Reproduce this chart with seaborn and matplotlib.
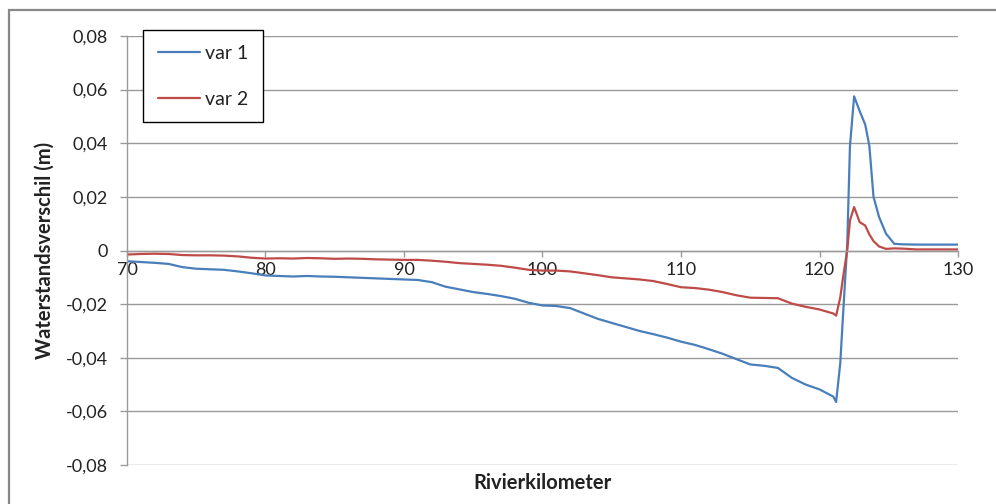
import matplotlib
matplotlib.use("Agg")
import matplotlib.pyplot as plt
import seaborn as sns
import pandas as pd
from matplotlib.patches import Rectangle

km = [70, 71, 72, 73, 74, 75, 76, 77, 78, 79, 80, 81, 82, 83, 84, 85, 86, 87, 88, 89,
      90, 91, 92, 93, 94, 95, 96, 97, 98, 99, 100, 101, 102, 103, 104, 105, 106, 107,
      108, 109, 110, 111, 112, 113, 114, 115, 116, 117, 118, 119, 120, 121, 121.2,
      121.5, 121.7, 122.0, 122.2, 122.5, 122.9, 123.3, 123.6, 123.9, 124.3, 124.8,
      125.4, 126, 127, 128, 129, 130]

var1 = [-0.0040, -0.0043, -0.0046, -0.0050, -0.0062, -0.0068, -0.0070, -0.0072, -0.0078,
        -0.0085, -0.0093, -0.0095, -0.0097, -0.0095, -0.0097, -0.0098, -0.0100, -0.0102,
        -0.0104, -0.0106, -0.0108, -0.0110, -0.0118, -0.0135, -0.0145, -0.0155, -0.0162,
        -0.0170, -0.0180, -0.0195, -0.0205, -0.0207, -0.0215, -0.0235, -0.0255, -0.0270,
        -0.0285, -0.0300, -0.0312, -0.0325, -0.0340, -0.0352, -0.0368, -0.0385, -0.0405,
        -0.0425, -0.0430, -0.0438, -0.0475, -0.0500, -0.0518, -0.0545, -0.0565, -0.0420,
        -0.0240, 0.0020, 0.0390, 0.0575, 0.0520, 0.0470, 0.0390, 0.0200, 0.0125, 0.0063,
        0.0025, 0.0023, 0.0022, 0.0022, 0.0022, 0.0022]

var2 = [-0.0015, -0.0013, -0.0012, -0.0013, -0.0017, -0.0018, -0.0018, -0.0019, -0.0022,
        -0.0027, -0.0030, -0.0029, -0.0030, -0.0028, -0.0029, -0.0031, -0.0030, -0.0031,
        -0.0033, -0.0034, -0.0035, -0.0035, -0.0038, -0.0042, -0.0047, -0.0050, -0.0053,
        -0.0057, -0.0064, -0.0072, -0.0075, -0.0075, -0.0078, -0.0085, -0.0092, -0.0100,
        -0.0104, -0.0108, -0.0114, -0.0125, -0.0137, -0.0140, -0.0146, -0.0155, -0.0167,
        -0.0176, -0.0177, -0.0178, -0.0198, -0.0210, -0.0220, -0.0235, -0.0243, -0.0175,
        -0.0100, 0.0000, 0.0112, 0.0162, 0.0106, 0.0093, 0.0060, 0.0035, 0.0015, 0.0006,
        0.0008, 0.0007, 0.0004, 0.0004, 0.0004, 0.0004]

series_names = ["var 1", "var 2"]
series_colors = ["#4a7ebb", "#be4b48"]

x_ticks = [70, 80, 90, 100, 110, 120, 130]
x_ticklabels = ["70", "80", "90", "100", "110", "120", "130"]
y_ticks = [0.08, 0.06, 0.04, 0.02, 0.0, -0.02, -0.04, -0.06, -0.08]
y_ticklabels = ["0,08", "0,06", "0,04", "0,02", "0", "-0,02", "-0,04", "-0,06", "-0,08"]

df = pd.DataFrame({
    "km": km * 2,
    "value": var1 + var2,
    "series": [series_names[0]] * len(km) + [series_names[1]] * len(km),
})

sns.set_style("white")
plt.rcParams["font.family"] = ["Lato", "DejaVu Sans"]

fig = plt.figure(figsize=(9.96, 5.04), dpi=100)
ax = fig.add_axes([127 / 996, 1 - 465 / 504, (958 - 127) / 996, (465 - 36) / 504])

sns.lineplot(data=df, x="km", y="value", hue="series",
             palette=dict(zip(series_names, series_colors)),
             linewidth=1.6, ax=ax, legend=True, sort=False)

grid_c = "#9a9a9a"
ax.set_xlim(70, 130)
ax.set_ylim(-0.08, 0.08)
ax.set_yticks(y_ticks)
ax.set_yticklabels(y_ticklabels)
ax.set_xticks(x_ticks)
ax.set_xticklabels(x_ticklabels)
ax.yaxis.grid(True, color=grid_c, linewidth=1.0)
ax.xaxis.grid(False)
ax.set_axisbelow(True)

for s in ["top", "right"]:
    ax.spines[s].set_visible(False)
ax.spines["left"].set_color(grid_c)
ax.spines["left"].set_linewidth(1.0)
ax.spines["bottom"].set_position(("data", 0))
ax.spines["bottom"].set_color(grid_c)
ax.spines["bottom"].set_linewidth(1.0)

ax.tick_params(axis="y", which="major", length=5, width=1.0, color=grid_c,
               pad=9, labelsize=13, labelcolor="#222222", left=True, direction="out")
ax.tick_params(axis="x", which="major", length=4.5, width=1.0, color=grid_c,
               pad=3.5, labelsize=13, labelcolor="#222222", bottom=True, direction="out")

ax.set_xlabel("Rivierkilometer", fontsize=14.5, fontweight="bold", color="#222222")
ax.set_ylabel("Waterstandsverschil (m)", fontsize=14.5, fontweight="bold", color="#222222")
ax.xaxis.set_label_coords(0.5, (465 - 483) / 429)
ax.xaxis.label.set_va("center")
ax.yaxis.set_label_coords((45 - 127) / 831, 0.5)
ax.yaxis.label.set_va("center")

leg = ax.legend(loc="upper left", bbox_to_anchor=((143 - 127) / 831, (465 - 30) / 429),
                borderaxespad=0, frameon=True, fancybox=False, fontsize=14,
                handlelength=2.2, handletextpad=0.25, labelspacing=1.5,
                borderpad=0.75, title=None)
leg.get_frame().set_edgecolor("black")
leg.get_frame().set_linewidth(1.0)
leg.get_frame().set_alpha(1)
for line in leg.get_lines():
    line.set_linewidth(1.6)
for t in leg.get_texts():
    t.set_color("#222222")

fig.patches.append(Rectangle((9 / 996, -0.2), 1.5, 1.2 - 10 / 504, transform=fig.transFigure,
                             fill=False, edgecolor="#888888", linewidth=1.6, clip_on=False))

fig.savefig("out.png", dpi=100)
